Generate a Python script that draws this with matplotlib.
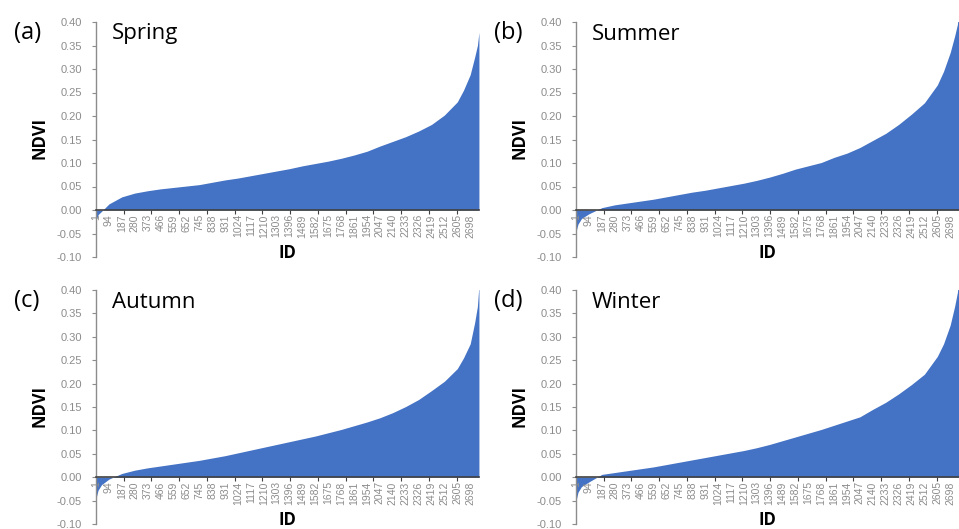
import numpy as np
import matplotlib.pyplot as plt
from matplotlib.ticker import MultipleLocator

plt.rcParams['font.family'] = ['Liberation Sans', 'DejaVu Sans']

ids = [1, 15, 40, 94, 187, 280, 373, 466, 559, 652, 745, 838, 931, 1024, 1117,
       1210, 1303, 1396, 1489, 1582, 1675, 1768, 1861, 1954, 2047, 2140, 2233,
       2326, 2419, 2512, 2605, 2650, 2698, 2730, 2750, 2761]

spring = [-0.022, -0.010, -0.003, 0.013, 0.028, 0.036, 0.041, 0.045, 0.048, 0.051,
          0.054, 0.059, 0.064, 0.068, 0.073, 0.078, 0.083, 0.088, 0.094, 0.099,
          0.104, 0.110, 0.117, 0.125, 0.136, 0.146, 0.156, 0.168, 0.182, 0.202,
          0.230, 0.255, 0.288, 0.325, 0.350, 0.378]

summer = [-0.045, -0.030, -0.018, -0.008, 0.005, 0.011, 0.015, 0.019, 0.023, 0.028,
          0.033, 0.038, 0.042, 0.047, 0.052, 0.057, 0.063, 0.070, 0.078, 0.087,
          0.094, 0.101, 0.112, 0.121, 0.133, 0.148, 0.163, 0.182, 0.204, 0.228,
          0.266, 0.295, 0.335, 0.370, 0.395, 0.430]

autumn = [-0.045, -0.028, -0.016, -0.004, 0.008, 0.015, 0.020, 0.024, 0.028, 0.032,
          0.036, 0.041, 0.046, 0.052, 0.058, 0.064, 0.070, 0.076, 0.082, 0.088,
          0.095, 0.102, 0.110, 0.118, 0.127, 0.138, 0.151, 0.166, 0.185, 0.205,
          0.232, 0.255, 0.285, 0.330, 0.365, 0.410]

winter = [-0.050, -0.032, -0.020, -0.010, 0.006, 0.010, 0.014, 0.018, 0.022, 0.027,
          0.032, 0.037, 0.042, 0.047, 0.052, 0.057, 0.063, 0.070, 0.078, 0.086,
          0.094, 0.102, 0.111, 0.120, 0.129, 0.145, 0.160, 0.178, 0.198, 0.220,
          0.258, 0.285, 0.325, 0.365, 0.395, 0.430]

n_ids = 2761
tick_ids = list(range(1, n_ids + 1, 93))
yticks = [-0.10, -0.05, 0.00, 0.05, 0.10, 0.15, 0.20, 0.25, 0.30, 0.35, 0.40]
ytick_labels = ['-0.10', '-0.05', '0.00', '0.05', '0.10', '0.15', '0.20',
                '0.25', '0.30', '0.35', '0.40']

panels = ['(a)', '(b)', '(c)', '(d)']
seasons = ['Spring', 'Summer', 'Autumn', 'Winter']
series = [spring, summer, autumn, winter]

W, H = 959, 529
fig = plt.figure(figsize=(W / 100, H / 100), dpi=100)

# axes boxes in pixels: left, top, right, bottom
boxes = [(96, 22, 479, 257), (576, 22, 959, 257),
         (96, 290, 479, 524), (576, 290, 959, 524)]

grey = '#8c8c8c'
blue = '#4472C4'

for i, (l, t, r, b) in enumerate(boxes):
    ax = fig.add_axes([l / W, 1 - b / H, (r - l) / W, (b - t) / H])
    ax.fill_between(ids, series[i], 0, color=blue, lw=0)
    ax.set_xlim(0.5, n_ids + 0.5)
    ax.set_ylim(-0.10, 0.40)

    ax.spines['top'].set_visible(False)
    ax.spines['right'].set_visible(False)
    ax.spines['bottom'].set_position(('data', 0))
    ax.spines['bottom'].set_color('#404040')
    ax.spines['bottom'].set_linewidth(1.2)
    ax.spines['left'].set_color(grey)
    ax.spines['left'].set_linewidth(1)

    ax.set_yticks(yticks)
    ax.set_yticklabels(ytick_labels)
    ax.tick_params(axis='y', length=3, width=0.8, color=grey, labelsize=8,
                   labelcolor=grey, pad=7)

    ax.set_xticks(tick_ids)
    ax.set_xticklabels([str(v) for v in tick_ids], rotation=90)
    ax.tick_params(axis='x', which='major', length=0, pad=3, labelsize=7.5,
                   labelcolor=grey)
    ax.xaxis.set_minor_locator(MultipleLocator(200))
    ax.tick_params(axis='x', which='minor', length=3, width=0.8, color='#404040')

    # texts in pixel positions
    fig.text((l - 82) / W, 1 - (t + 11) / H, panels[i], fontsize=17,
             family='Open Sans', va='center', ha='left')
    fig.text((l + 16) / W, 1 - (t + 12) / H, seasons[i], fontsize=16,
             family='Open Sans', va='center', ha='left')
    fig.text((l - 56) / W, 1 - (t + 116) / H, 'NDVI', fontsize=12,
             family='Open Sans', fontweight='bold', rotation=90,
             va='center', ha='center')
    ax.text(0.5, 0.016, 'ID', transform=ax.transAxes, fontsize=12,
            family='Open Sans', fontweight='bold', va='center', ha='center')

plt.savefig('out.png', dpi=100)
